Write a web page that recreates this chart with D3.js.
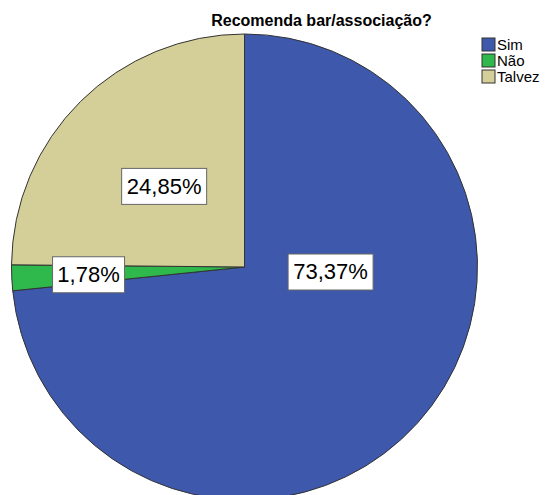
<!DOCTYPE html>
<html>
<head>
<meta charset="utf-8">
<script src="https://cdn.jsdelivr.net/npm/d3@7"></script>
<style>
  html, body { margin: 0; padding: 0; background: #fff; }
  svg { display: block; font-family: "Liberation Sans", Arial, sans-serif; }
</style>
</head>
<body>
<svg id="chart" width="545" height="495"></svg>
<script>
// Responses to "Recomenda bar/associação?" (percent of respondents)
const categories = ["Sim", "Não", "Talvez"];
const percents = [73.37, 1.78, 24.85];
const colors = ["#3e58ab", "#2fb84b", "#d4cf98"];
const title = "Recomenda bar/associação?";

const W = 545, H = 495;
const cx = 244.5, cy = 267, R = 233;

const svg = d3.select("#chart");

const pie = d3.pie().sort(null).value(d => d.value);
const arcs = pie(categories.map((c, i) => ({ name: c, value: percents[i], color: colors[i] })));
const arc = d3.arc().innerRadius(0).outerRadius(R);

const g = svg.append("g").attr("transform", `translate(${cx},${cy})`);

g.selectAll("path.slice")
  .data(arcs)
  .join("path")
  .attr("class", "slice")
  .attr("d", arc)
  .attr("fill", d => d.data.color)
  .attr("stroke", "#333")
  .attr("stroke-width", 1)
  .attr("stroke-linejoin", "round");

// Label anchor per slice: fraction of radius, and optional angle (degrees) override
const labelPlacement = {
  "Sim":    { r: 0.37, angle: 93 },
  "Não":    { r: 0.67 },
  "Talvez": { r: 0.49 }
};

const fmt = v => v.toFixed(2).replace(".", ",") + "%";

arcs.forEach(d => {
  const p = labelPlacement[d.data.name];
  const a = p.angle != null ? p.angle * Math.PI / 180 : (d.startAngle + d.endAngle) / 2;
  const x = Math.sin(a) * p.r * R;
  const y = -Math.cos(a) * p.r * R;
  const lg = g.append("g").attr("transform", `translate(${x},${y})`);
  const rect = lg.append("rect").attr("fill", "#fff").attr("stroke", "#666").attr("stroke-width", 1);
  const t = lg.append("text")
    .attr("text-anchor", "middle")
    .attr("dy", "0.36em")
    .attr("font-size", 22)
    .attr("fill", "#000")
    .text(fmt(d.data.value));
  const w = t.node().getComputedTextLength();
  const bw = Math.round(w + 10), bh = 36;
  rect.attr("x", -bw / 2).attr("y", -bh / 2 + 0.5).attr("width", bw).attr("height", bh);
});

// Title
svg.append("text")
  .attr("x", 321.5)
  .attr("y", 26)
  .attr("text-anchor", "middle")
  .attr("font-size", 16)
  .attr("font-weight", "bold")
  .attr("fill", "#000")
  .text(title);

// Legend
const legend = svg.append("g").attr("transform", "translate(482,38)");
const item = legend.selectAll("g")
  .data(categories)
  .join("g")
  .attr("transform", (d, i) => `translate(0,${i * 16})`);
item.append("rect")
  .attr("width", 13).attr("height", 13)
  .attr("fill", (d, i) => colors[i])
  .attr("stroke", "#333").attr("stroke-width", 1);
item.append("text")
  .attr("x", 15)
  .attr("y", 12)
  .attr("font-size", 15)
  .attr("fill", "#000")
  .text(d => d);
</script>
</body>
</html>
